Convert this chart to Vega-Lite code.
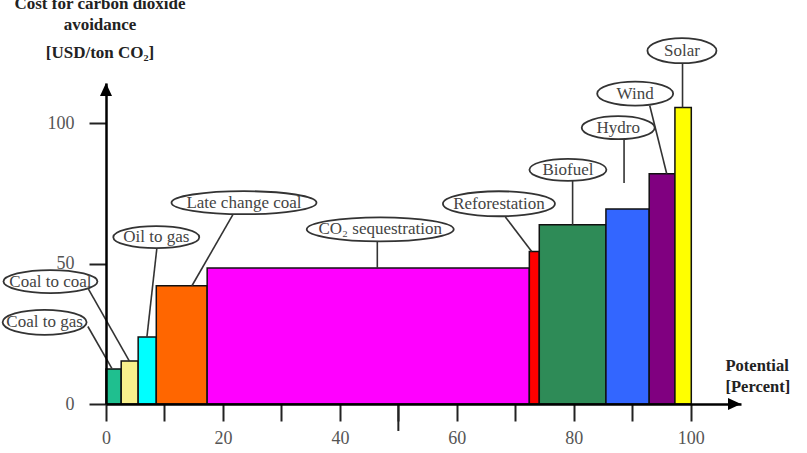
{
  "$schema": "https://vega.github.io/schema/vega-lite/v6.json",
  "autosize": {"type": "none"},
  "padding": {"left": 106, "top": 83, "right": 66, "bottom": 49},
  "width": 635,
  "height": 321,
  "background": "white",
  "config": {"view": {"stroke": null}, "font": "Liberation Serif"},
  "title": {
    "text": ["Cost for carbon dioxide", "avoidance"],
    "subtitle": "[USD/ton CO₂]",
    "anchor": "start",
    "frame": "group",
    "align": "center",
    "dx": -6,
    "font": "Liberation Serif",
    "fontSize": 17,
    "fontWeight": "bold",
    "color": "#222",
    "lineHeight": 21,
    "subtitleFont": "Liberation Serif",
    "subtitleFontSize": 17,
    "subtitleFontWeight": "bold",
    "subtitleColor": "#222",
    "subtitlePadding": 11,
    "offset": -27
  },
  "datasets": {
    "bars": [
      {"name": "Coal to gas", "start": 0, "end": 2.6, "cost": 12.5},
      {"name": "Coal to coal", "start": 2.6, "end": 5.5, "cost": 15.3},
      {"name": "Oil to gas", "start": 5.5, "end": 8.6, "cost": 23.9},
      {"name": "Late change coal", "start": 8.6, "end": 17.3, "cost": 42.1},
      {"name": "CO₂ sequestration", "start": 17.3, "end": 72.4, "cost": 48.4},
      {"name": "Reforestation", "start": 72.4, "end": 74.1, "cost": 54.3},
      {"name": "Biofuel", "start": 74.1, "end": 85.5, "cost": 63.8},
      {"name": "Hydro", "start": 85.5, "end": 92.9, "cost": 69.4},
      {"name": "Wind", "start": 92.9, "end": 97.3, "cost": 82.0},
      {"name": "Solar", "start": 97.3, "end": 100.1, "cost": 105.6}
    ],
    "labels": [
      {"name": "Coal to gas", "lx": -10.5, "ly": 29.1, "ax": -3.1, "ay": 27.6, "bx": 1.0, "by": 12.7},
      {"name": "Coal to coal", "lx": -9.5, "ly": 43.6, "ax": -3.0, "ay": 40.9, "bx": 4.0, "by": 15.3},
      {"name": "Oil to gas", "lx": 8.6, "ly": 59.4, "ax": 8.7, "ay": 55.5, "bx": 7.0, "by": 23.9},
      {"name": "Late change coal", "lx": 23.6, "ly": 71.7, "ax": 21.7, "ay": 67.4, "bx": 14.7, "by": 42.1},
      {"name": "CO₂ sequestration", "lx": 46.9, "ly": 62.2, "ax": 46.4, "ay": 57.9, "bx": 46.4, "by": 48.4},
      {"name": "Reforestation", "lx": 67.2, "ly": 71.3, "ax": 68.3, "ay": 66.6, "bx": 72.8, "by": 54.3},
      {"name": "Biofuel", "lx": 79.0, "ly": 83.4, "ax": 79.8, "ay": 79.5, "bx": 79.8, "by": 63.8},
      {"name": "Hydro", "lx": 87.6, "ly": 98.4, "ax": 88.6, "ay": 94.4, "bx": 88.6, "by": 78.7},
      {"name": "Wind", "lx": 90.5, "ly": 110.5, "ax": 93.0, "ay": 106.2, "bx": 95.9, "by": 82.0},
      {"name": "Solar", "lx": 98.5, "ly": 125.8, "ax": 98.6, "ay": 121.6, "bx": 98.6, "by": 105.6}
    ]
  },
  "layer": [
    {
      "data": {"name": "bars"},
      "mark": {"type": "rect", "stroke": "#111", "strokeWidth": 1.5, "clip": false},
      "encoding": {
        "x": {
          "field": "start", "type": "quantitative",
          "scale": {"domain": [0, 108.6], "nice": false, "zero": false},
          "axis": {
            "values": [0, 10, 20, 30, 40, 50, 60, 70, 80, 90, 100],
            "labelExpr": "datum.value % 20 === 0 ? datum.label : ''",
            "grid": false,
            "zindex": 1,
            "domainColor": "#000", "domainWidth": 2.5,
            "tickColor": "#222", "tickWidth": 2, "tickSize": 17,
            "labelFont": "Liberation Serif", "labelFontSize": 18, "labelColor": "#555",
            "labelPadding": 8, "labelFlush": false, "labelOverlap": false,
            "title": ["Potential", "[Percent]"],
            "titleAngle": 0, "titleAlign": "left", "titleBaseline": "alphabetic",
            "titleX": 619, "titleY": -34,
            "titleFont": "Liberation Serif", "titleFontSize": 16.5, "titleFontWeight": "bold",
            "titleColor": "#222", "titleLineHeight": 21
          }
        },
        "x2": {"field": "end"},
        "y": {
          "field": "cost", "type": "quantitative",
          "scale": {"domain": [0, 114.3], "nice": false},
          "axis": {
            "values": [0, 50, 100],
            "grid": false,
            "zindex": 1,
            "domainColor": "#000", "domainWidth": 2.5,
            "tickColor": "#222", "tickWidth": 2, "tickSize": 17,
            "labelFont": "Liberation Serif", "labelFontSize": 18, "labelColor": "#555",
            "labelPadding": 15,
            "title": null
          }
        },
        "y2": {"datum": 0},
        "color": {
          "field": "name", "type": "nominal", "legend": null,
          "scale": {
            "domain": ["Coal to gas", "Coal to coal", "Oil to gas", "Late change coal", "CO₂ sequestration", "Reforestation", "Biofuel", "Hydro", "Wind", "Solar"],
            "range": ["#1fbf8f", "#f8f08c", "#00ffff", "#ff6600", "#ff00ff", "#ff0000", "#2e8b57", "#3366ff", "#800080", "#ffff00"]
          }
        }
      }
    },
    {
      "data": {"name": "labels"},
      "mark": {"type": "rule", "color": "#333", "strokeWidth": 1.6, "clip": false},
      "encoding": {
        "x": {"field": "ax", "type": "quantitative"},
        "y": {"field": "ay", "type": "quantitative"},
        "x2": {"field": "bx"},
        "y2": {"field": "by"}
      }
    },
    {
      "data": {"name": "labels"},
      "mark": {"type": "point", "filled": true, "fill": "white", "stroke": "#333", "strokeWidth": 1.8, "size": 4, "opacity": 1, "clip": false},
      "encoding": {
        "x": {"field": "lx", "type": "quantitative"},
        "y": {"field": "ly", "type": "quantitative"},
        "shape": {
          "field": "name", "type": "nominal", "legend": null,
          "scale": {
            "domain": ["Coal to gas", "Coal to coal", "Oil to gas", "Late change coal", "CO₂ sequestration", "Reforestation", "Biofuel", "Hydro", "Wind", "Solar"],
            "range": [
              "M-42,0A42,12.5 0 1,0 42,0A42,12.5 0 1,0 -42,0Z",
              "M-47,0A47,11.5 0 1,0 47,0A47,11.5 0 1,0 -47,0Z",
              "M-43,0A43,11 0 1,0 43,0A43,11 0 1,0 -43,0Z",
              "M-72.5,0A72.5,11.5 0 1,0 72.5,0A72.5,11.5 0 1,0 -72.5,0Z",
              "M-73.5,0A73.5,12 0 1,0 73.5,0A73.5,12 0 1,0 -73.5,0Z",
              "M-56,0A56,12.5 0 1,0 56,0A56,12.5 0 1,0 -56,0Z",
              "M-38.5,0A38.5,11 0 1,0 38.5,0A38.5,11 0 1,0 -38.5,0Z",
              "M-36.5,0A36.5,11.5 0 1,0 36.5,0A36.5,11.5 0 1,0 -36.5,0Z",
              "M-38,0A38,12 0 1,0 38,0A38,12 0 1,0 -38,0Z",
              "M-34.5,0A34.5,12.5 0 1,0 34.5,0A34.5,12.5 0 1,0 -34.5,0Z"
            ]
          }
        }
      }
    },
    {
      "data": {"name": "labels"},
      "mark": {"type": "text", "font": "Liberation Serif", "fontSize": 17, "color": "#444", "baseline": "middle", "align": "center", "clip": false},
      "encoding": {
        "x": {"field": "lx", "type": "quantitative"},
        "y": {"field": "ly", "type": "quantitative"},
        "text": {"field": "name"}
      }
    },
    {
      "data": {"values": [{}]},
      "mark": {"type": "rule", "color": "#222", "strokeWidth": 2, "clip": false},
      "encoding": {"x": {"datum": 50}, "y": {"datum": 0}, "y2": {"datum": -9.6}}
    },
    {
      "data": {"values": [{}]},
      "mark": {"type": "point", "filled": true, "size": 4, "opacity": 1, "color": "#000", "shape": "M0,0L-6,13L6,13Z", "clip": false},
      "encoding": {"x": {"datum": 0}, "y": {"datum": 114.3}}
    },
    {
      "data": {"values": [{}]},
      "mark": {"type": "point", "filled": true, "size": 4, "opacity": 1, "color": "#000", "shape": "M0,0L-13,-6L-13,6Z", "clip": false},
      "encoding": {"x": {"datum": 108.6}, "y": {"datum": 0}}
    }
  ]
}
